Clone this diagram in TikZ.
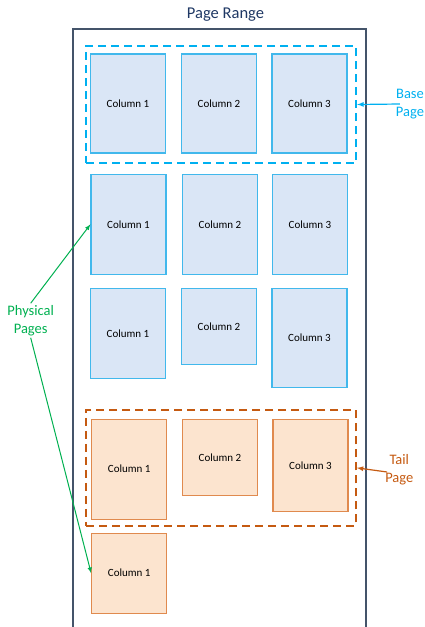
\documentclass[tikz,border=0pt]{standalone}
\usepackage{fontspec}
\setmainfont{Carlito}
\usetikzlibrary{positioning,fit}

\definecolor{frameGray}{HTML}{44546A}
\definecolor{titleBlue}{HTML}{1F3864}
\definecolor{baseCyan}{HTML}{00B0F0}
\definecolor{baseLine}{HTML}{41B8EC}
\definecolor{baseFill}{HTML}{DAE6F6}
\definecolor{tailDark}{HTML}{C55A11}
\definecolor{tailLine}{HTML}{E08A4E}
\definecolor{tailFill}{HTML}{FCE4CF}
\definecolor{physGreen}{HTML}{00B050}

\tikzset{
  basecol/.style={draw=baseLine, fill=baseFill, line width=1.1pt, minimum width=75pt, inner sep=0pt, font=\fontsize{11}{13}\selectfont},
  tailcol/.style={draw=tailLine, fill=tailFill, line width=1.1pt, minimum width=75pt, inner sep=0pt, font=\fontsize{11}{13}\selectfont},
  sidelabel/.style={align=center, inner sep=2pt, font=\fontsize{14.5}{17.6}\selectfont},
}

\begin{document}
\begin{tikzpicture}[x=1pt, y=-1pt, >=latex]
  \useasboundingbox (0,0) rectangle (425,627);

  % page range frame, open at the bottom
  \node[text=titleBlue, font=\fontsize{16.5}{19}\selectfont] (title) at (225.5,15) {Page Range};
  \draw[frameGray, line width=1.2pt] (73,627) -- (73,29) -- (366,29) -- (366,627);

  % base page
  \node[basecol, minimum height=99pt] (b1) at (128,103.5) {Column 1};
  \node[basecol, minimum height=99pt] (b2) at (219,103.5) {Column 2};
  \node[basecol, minimum height=99pt] (b3) at (309.5,103.5) {Column 3};

  % physical pages in between
  \node[basecol, minimum height=100pt] (p1) at (128.5,224.3) {Column 1};
  \node[basecol, minimum height=100pt] (p2) at (220,224.3) {Column 2};
  \node[basecol, minimum height=100pt] (p3) at (310,224.3) {Column 3};

  \node[basecol, minimum height=90pt] (q1) at (128,333.5) {Column 1};
  \node[basecol, minimum height=76pt] (q2) at (219,326.3) {Column 2};
  \node[basecol, minimum height=99pt] (q3) at (309.5,338) {Column 3};

  % tail page
  \node[tailcol, minimum height=100pt] (t1) at (129.2,469.2) {Column 1};
  \node[tailcol, minimum height=76pt] (t2) at (220,457.5) {Column 2};
  \node[tailcol, minimum height=92pt] (t3) at (310.5,465.3) {Column 3};
  \node[tailcol, minimum height=80pt] (t4) at (129.2,573.2) {Column 1};

  % dashed page outlines
  \node[draw=baseCyan, line width=2.3pt, dash pattern=on 8pt off 5pt, inner sep=0pt, fit={(86,46) (356,163)}] (base) {};
  \node[draw=tailDark, line width=2.3pt, dash pattern=on 8pt off 5pt, inner sep=0pt, fit={(86,410) (355.7,525.7)}] (tail) {};

  % labels
  \node[sidelabel, text=baseCyan] (baselbl) at (410,104) {Base\\Page};
  \draw[->, baseCyan, line width=1.2pt] ([xshift=6pt]baselbl.west) -- (base.east);

  \node[sidelabel, text=tailDark] (taillbl) at (399.3,470) {Tail\\Page};
  \draw[->, tailDark, line width=1.2pt] ([xshift=4pt,yshift=-2pt]taillbl.west) -- (tail.east);

  \node[sidelabel, text=physGreen] (phys) at (30.7,320.5) {Physical\\Pages};
  \draw[->, physGreen, line width=1pt] (phys.north) -- (p1.west);
  \draw[->, physGreen, line width=1pt] (phys.south) -- (t4.west);
\end{tikzpicture}
\end{document}
